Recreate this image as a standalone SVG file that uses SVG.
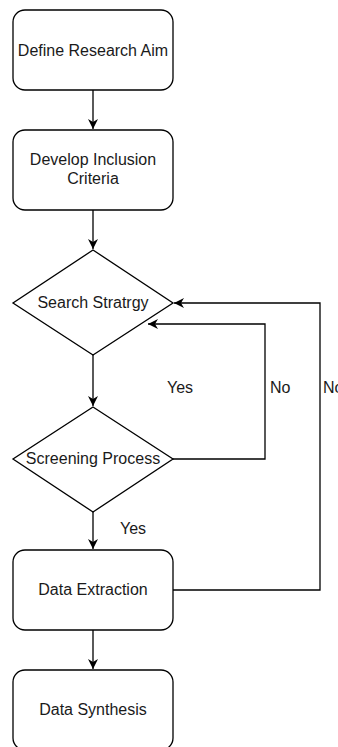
<svg xmlns="http://www.w3.org/2000/svg" width="338" height="747" viewBox="0 0 338 747">
<style>
.n{fill:#fff;stroke:#000;stroke-width:1.3}
.t{font-family:"Liberation Sans",Arial,sans-serif;font-size:16px;fill:#1a1a1a;text-anchor:middle}
.l{font-family:"Liberation Sans",Arial,sans-serif;font-size:16px;fill:#1a1a1a}
.c{fill:none;stroke:#000;stroke-width:1.3}
</style>
<defs>
<marker id="ah" viewBox="0 0 10 10" refX="10" refY="5" markerWidth="10" markerHeight="10" markerUnits="userSpaceOnUse" orient="auto">
<path d="M0,0 L10,5 L0,10 L3,5 Z" fill="#000"/>
</marker>
</defs>
<rect width="338" height="747" fill="#fff"/>
<g id="connectors">
<path class="c" d="M93,90 V129" marker-end="url(#ah)"/>
<path class="c" d="M93,210 V249" marker-end="url(#ah)"/>
<path class="c" d="M93,355 V406" marker-end="url(#ah)"/>
<path class="c" d="M93,512 V549" marker-end="url(#ah)"/>
<path class="c" d="M93,630 V669" marker-end="url(#ah)"/>
<path class="c" d="M173,459 H265 V324 H148" marker-end="url(#ah)"/>
<path class="c" d="M173,590 H320 V303 H174" marker-end="url(#ah)"/>
<text class="l" x="167" y="393">Yes</text>
<text class="l" x="270" y="393">No</text>
<text class="l" x="323" y="393">No</text>
<text class="l" x="120" y="534">Yes</text>
</g>
<g id="define">
<rect class="n" x="13" y="10" width="160" height="80" rx="12"/>
<text class="t" x="93" y="56">Define Research Aim</text>
</g>
<g id="develop">
<rect class="n" x="13" y="130" width="160" height="80" rx="12"/>
<text class="t" x="93" y="165">Develop Inclusion</text>
<text class="t" x="93" y="184">Criteria</text>
</g>
<g id="search">
<polygon class="n" points="93,250 173,303 93,355 13,303"/>
<text class="t" x="93" y="308">Search Stratrgy</text>
</g>
<g id="screening">
<polygon class="n" points="93,407 173,459 93,512 13,459"/>
<text class="t" x="93" y="464">Screening Process</text>
</g>
<g id="extraction">
<rect class="n" x="13" y="550" width="160" height="80" rx="12"/>
<text class="t" x="93" y="595">Data Extraction</text>
</g>
<g id="synthesis">
<rect class="n" x="13" y="670" width="160" height="80" rx="12"/>
<text class="t" x="93" y="715">Data Synthesis</text>
</g>
</svg>
